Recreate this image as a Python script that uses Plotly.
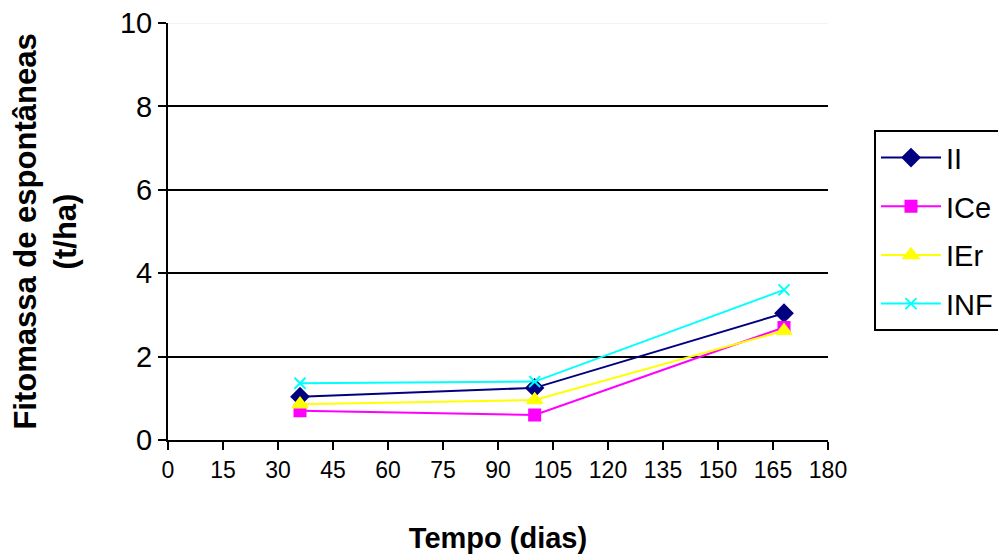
import plotly.graph_objects as go

days = [36, 100, 168]
II = [1.04, 1.25, 3.04]
ICe = [0.70, 0.60, 2.70]
IEr = [0.86, 0.96, 2.62]
INF = [1.36, 1.40, 3.60]

series = [
    ("II", II, "#000080", "diamond", 13),
    ("ICe", ICe, "#FF00FF", "square", 11),
    ("IEr", IEr, "#FFFF00", "triangle-up", 13),
    ("INF", INF, "#00FFFF", "x-thin", 11),
]

fig = go.Figure()
for name, vals, col, sym, sz in series:
    fig.add_trace(go.Scatter(
        x=days, y=vals, name=name, mode="lines+markers", legendgroup=name,
        line=dict(color=col, width=2),
        marker=dict(symbol=sym, size=sz, color=col, line=dict(color=col, width=2)),
    ))

fig.add_shape(type="line", xref="paper", yref="y", x0=0, x1=1, y0=10, y1=10,
              line=dict(color="#e8e8e8", width=1), layer="below")

fig.update_layout(
    width=1006, height=560,
    margin=dict(l=160, r=186, t=15, b=128),
    paper_bgcolor="white", plot_bgcolor="white",
    font=dict(family="Arial, Liberation Sans", size=20, color="black"),
    showlegend=True,
    legend=dict(x=1.0697, y=0.743, xanchor="left", yanchor="top",
                bordercolor="black", borderwidth=2, bgcolor="white",
                font=dict(size=29), tracegroupgap=8, itemwidth=60),
    xaxis=dict(range=[0, 180], tickvals=list(range(0, 181, 15)), automargin=False,
               showgrid=False, zeroline=False, showline=True, linecolor="black", linewidth=2,
               ticks="outside", ticklen=8, tickwidth=2, tickcolor="black",
               tickfont=dict(size=23), ticklabeloverflow="allow",
               title=dict(text="<b>Tempo (dias)</b>", font=dict(size=29), standoff=46)),
    yaxis=dict(range=[0, 10], tickvals=[0, 2, 4, 6, 8, 10], automargin=False,
               showgrid=True, gridcolor="black", gridwidth=2, zeroline=False,
               showline=True, linecolor="black", linewidth=2,
               ticks="outside", ticklen=8, tickwidth=2, tickcolor="black",
               tickfont=dict(size=29), ticklabeloverflow="allow",
               title=dict(text="<b>Fitomassa de espontâneas<br>(t/ha)</b>", font=dict(size=31), standoff=38)),
)

fig.write_html("out.html")
